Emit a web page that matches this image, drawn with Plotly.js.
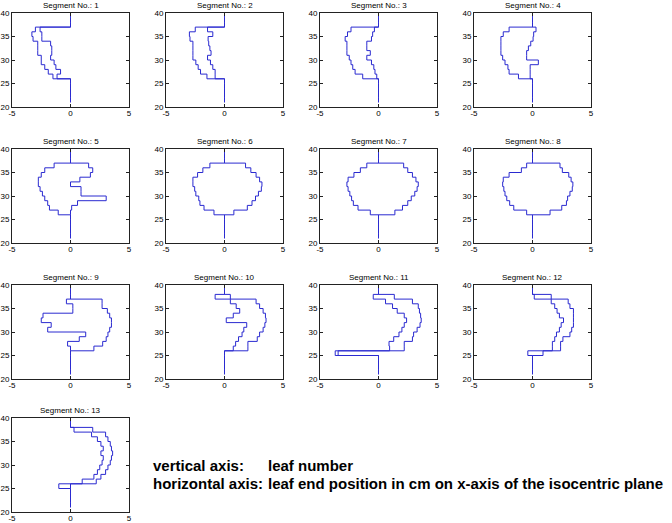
<!DOCTYPE html>
<html><head><meta charset="utf-8">
<script src="https://cdn.plot.ly/plotly-3.0.1.min.js"></script>
<style>html,body{margin:0;padding:0;background:#fff}#chart{width:672px;height:523px}</style>
</head><body><div id="chart"></div>
<script>
const leafNumbers = [21,22,23,24,25,26,27,28,29,30,31,32,33,34,35,36,37,38,39,40];
const segmentNames = ["Segment No.: 1","Segment No.: 2","Segment No.: 3","Segment No.: 4","Segment No.: 5","Segment No.: 6","Segment No.: 7","Segment No.: 8","Segment No.: 9","Segment No.: 10","Segment No.: 11","Segment No.: 12","Segment No.: 13"];
const xTicks = [-5, 0, 5];
const yTicks = [20, 25, 30, 35, 40];

const left1  = [0,0,0,0,0,-1.5,-1.9,-2.2,-2.5,-2.5,-2.8,-2.8,-2.8,-3.2,-3.3,-3.0,0,0,0,0];
const right1 = [0,0,0,0,0,-1.15,-0.85,-1.25,-1.4,-1.7,-1.6,-1.6,-1.7,-2.45,-2.45,-2.6,0,0,0,0];
const left2  = [0,0,0,0,0,-1.5,-2.05,-2.25,-2.45,-2.7,-2.7,-2.7,-2.7,-2.95,-3.0,-2.5,0,0,0,0];
const right2 = [0,0,0,0,0,-0.8,-0.8,-1.0,-1.2,-1.45,-1.15,-1.25,-1.35,-1.4,-1.0,-1.45,0,0,0,0];
const left3  = [0,0,0,0,0,-1.35,-2.0,-2.2,-2.35,-2.5,-2.7,-2.7,-2.7,-2.85,-2.65,-2.35,0,0,0,0];
const right3 = [0,0,0,0,0,-0.15,-0.3,-0.4,-0.6,-1.0,-0.7,-1.0,-1.0,-0.6,-0.5,-0.35,0,0,0,0];
const left4  = [0,0,0,0,0,-1.2,-2.0,-2.1,-2.35,-2.55,-2.7,-2.7,-2.7,-2.7,-2.5,-2.0,0,0,0,0];
const right4 = [0,0,0,0,0,-0.2,-0.2,-0.2,0.5,-0.5,-0.5,-0.35,-0.15,0.05,0.1,0.3,0,0,0,0];
const left5  = [0,0,0,0,0,-1.05,-1.8,-1.95,-2.2,-2.4,-2.6,-2.75,-2.75,-2.5,-2.2,-1.4,0,0,0,0];
const right5 = [0,0,0,0,0,0.0,0.1,0.6,3.05,0.9,0.9,0.0,0.8,1.7,1.9,1.55,0,0,0,0];
const left6  = [0,0,0,0,0,-0.9,-1.75,-2.1,-2.2,-2.45,-2.55,-2.7,-2.7,-2.3,-1.85,-1.25,0,0,0,0];
const right6 = [0,0,0,0,0,0.8,1.95,2.35,2.65,2.9,3.15,3.2,3.0,2.7,2.25,1.8,0,0,0,0];
const left7  = [0,0,0,0,0,-0.7,-1.75,-2.15,-2.3,-2.45,-2.6,-2.7,-2.6,-2.1,-1.55,-1.0,0,0,0,0];
const right7 = [0,0,0,0,0,1.4,2.05,2.5,2.8,3.1,3.3,3.4,3.2,2.9,2.5,2.15,0,0,0,0];
const left8  = [0,0,0,0,0,-0.5,-1.6,-1.95,-2.2,-2.35,-2.45,-2.55,-2.5,-2.0,-0.95,-0.5,0,0,0,0];
const right8 = [0,0,0,0,0,1.5,2.5,2.9,3.0,3.2,3.4,3.45,3.3,3.1,2.55,2.35,0,0,0,0];
const left9  = [0,0,0,0,0,0,-0.25,0.75,1.3,-1.95,-1.65,-2.5,-2.35,0.2,0.2,-0.35,0,0,0,0];
const right9 = [0,0,0,0,0,2.0,2.75,3.05,3.2,3.35,3.5,3.5,3.35,3.15,2.7,2.7,0,0,0,0];
const left10  = [0,0,0,0,0,0.75,0.95,1.2,1.5,1.65,1.9,0.15,0.75,1.3,1.0,0.5,-0.8,0,0,0];
const right10 = [0,0,0,0,0,2.0,2.0,2.8,3.0,3.3,3.45,3.55,3.5,3.3,3.0,2.7,0.5,0,0,0];
const left11  = [0,0,0,0,-3.7,0.95,0.9,1.3,1.75,2.0,2.2,2.4,2.2,1.6,1.2,0.6,-0.45,0,0,0];
const right11 = [0,0,0,0,-3.45,2.2,2.2,2.9,3.0,3.3,3.55,3.65,3.6,3.5,3.4,2.9,1.35,0,0,0];
const left12  = [0,0,0,0,-0.4,1.7,1.7,1.9,2.05,2.3,2.45,2.65,2.3,2.1,1.9,1.6,0.15,0,0,0];
const right12 = [0,0,0,0,0.9,2.4,2.4,2.6,3.2,3.35,3.5,3.5,3.5,3.5,3.2,3.05,1.6,0,0,0];
const left13  = [0,0,0,0,-1.0,1.0,2.0,2.3,2.5,2.7,2.8,2.6,2.8,2.6,2.3,1.8,0.3,0,0,0];
const right13 = [0,0,0,0,0.0,2.2,2.6,3.0,3.2,3.4,3.5,3.6,3.5,3.4,3.2,3.0,1.9,0,0,0];

const leftBanks  = [left1,left2,left3,left4,left5,left6,left7,left8,left9,left10,left11,left12,left13];
const rightBanks = [right1,right2,right3,right4,right5,right6,right7,right8,right9,right10,right11,right12,right13];

const W = 672, H = 523;
const colLeft = [12, 166, 320, 474];
const rowTop = [13, 149, 285, 418];
const boxW = 117, boxH = 94;
const lineColor = '#2a2ad0';
const fontFam = 'Liberation Sans, Arial, Helvetica, sans-serif';

const traces = [];
const layout = {
  width: W, height: H,
  margin: {l: 0, r: 0, t: 0, b: 0},
  paper_bgcolor: '#fff', plot_bgcolor: '#fff',
  showlegend: false,
  font: {family: fontFam, size: 8, color: '#000'},
  annotations: []
};

for (let i = 0; i < segmentNames.length; i++) {
  const r = Math.floor(i / 4), c = i % 4;
  const sfx = i === 0 ? '' : String(i + 1);
  const xa = 'x' + sfx, ya = 'y' + sfx;
  [leftBanks[i], rightBanks[i]].forEach(bank => {
    traces.push({
      type: 'scatter', mode: 'lines',
      x: bank, y: leafNumbers,
      xaxis: xa, yaxis: ya,
      line: {color: lineColor, width: 1, shape: 'vh'},
      hoverinfo: 'skip'
    });
  });
  const x0 = colLeft[c] / W, x1 = (colLeft[c] + boxW) / W;
  const y1 = 1 - rowTop[r] / H, y0 = 1 - (rowTop[r] + boxH) / H;
  const axCommon = {
    showgrid: false, zeroline: false,
    showline: true, linecolor: '#222', linewidth: 1, mirror: 'ticks',
    ticks: 'inside', ticklen: 3, tickcolor: '#222', tickwidth: 1,
    tickfont: {family: fontFam, size: 8, color: '#000'},
    fixedrange: true
  };
  layout['xaxis' + sfx] = Object.assign({}, axCommon, {
    domain: [x0, x1], range: [-5, 5], anchor: ya, ticklabelstandoff: -2,
    tickmode: 'array', tickvals: xTicks, ticktext: xTicks.map(String)
  });
  layout['yaxis' + sfx] = Object.assign({}, axCommon, {
    domain: [y0, y1], range: [20, 40], anchor: xa,
    tickmode: 'array', tickvals: yTicks, ticktext: yTicks.map(String)
  });
  layout.annotations.push({
    text: segmentNames[i], xref: 'paper', yref: 'paper',
    x: (x0 + x1) / 2, y: y1, xanchor: 'center', yanchor: 'bottom', yshift: 1,
    showarrow: false, font: {family: fontFam, size: 8, color: '#000'}
  });
}

const noteLabels = ["vertical axis:", "horizontal axis:"];
const noteTexts = ["leaf number", "leaf end position in cm on x-axis of the isocentric plane"];
const noteY = [465, 483];
for (let k = 0; k < noteLabels.length; k++) {
  layout.annotations.push({
    text: '<b>' + noteLabels[k] + '</b>', xref: 'paper', yref: 'paper',
    x: 151 / W, y: 1 - noteY[k] / H, xanchor: 'left', yanchor: 'middle',
    showarrow: false, font: {family: fontFam, size: 15, color: '#000'}
  });
  layout.annotations.push({
    text: '<b>' + noteTexts[k] + '</b>', xref: 'paper', yref: 'paper',
    x: 266 / W, y: 1 - noteY[k] / H, xanchor: 'left', yanchor: 'middle',
    showarrow: false, font: {family: fontFam, size: 15, color: '#000'}
  });
}

Plotly.newPlot('chart', traces, layout, {staticPlot: true, displayModeBar: false});
</script>
</body></html>
